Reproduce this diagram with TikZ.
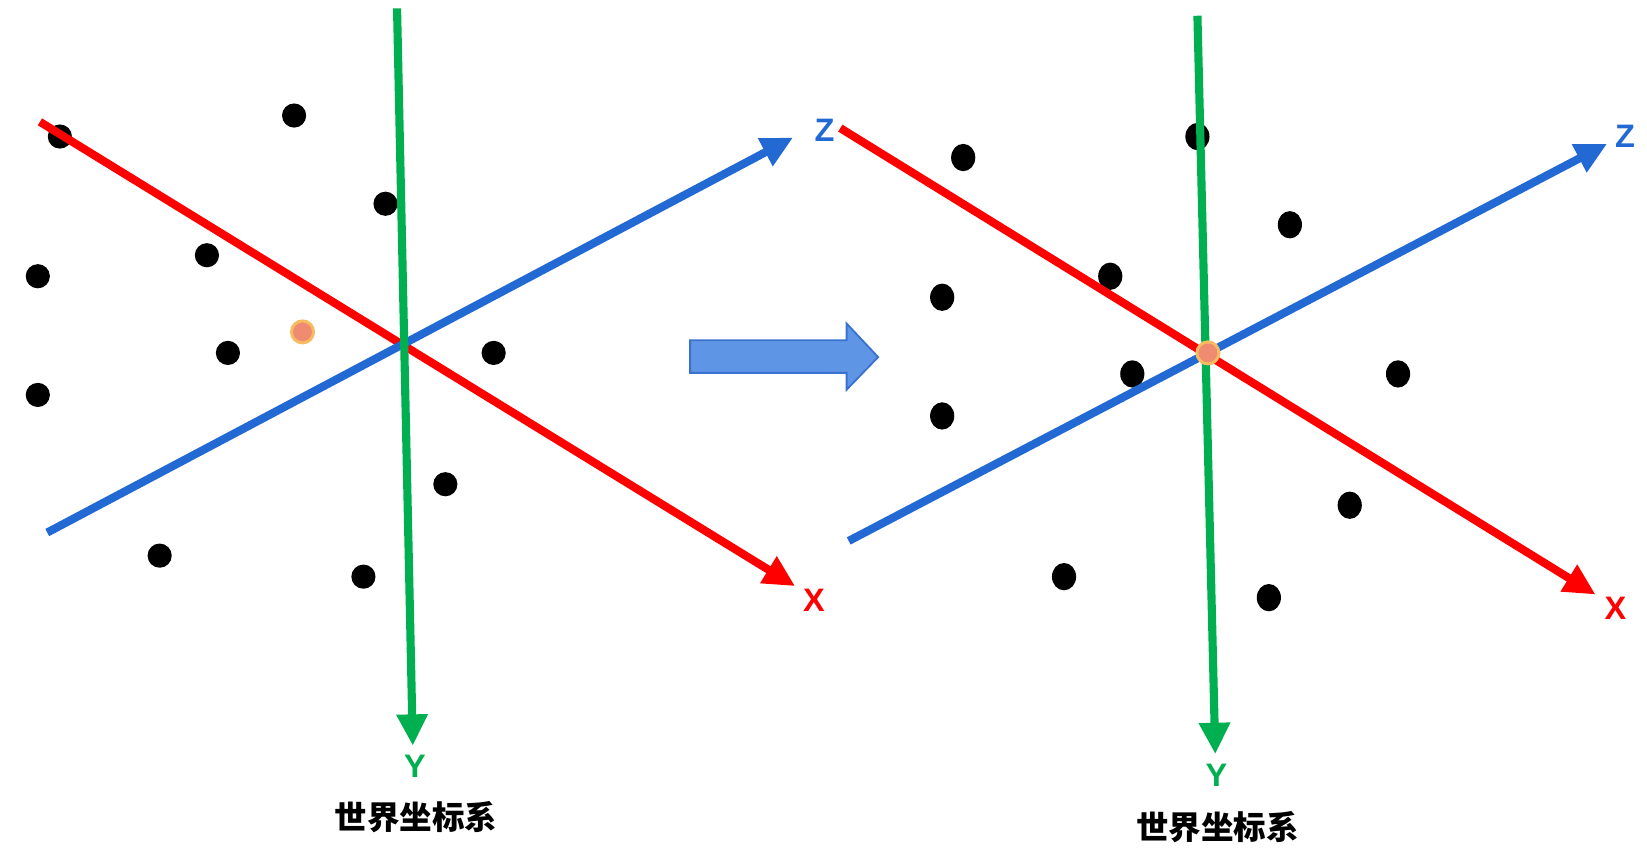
\documentclass[tikz,border=0pt]{standalone}
\usepackage{fontspec}
\setmainfont{Liberation Sans}
\newfontfamily\cjk{Noto Sans CJK SC}
\usetikzlibrary{arrows.meta,shapes.geometric}

\definecolor{axred}{HTML}{FF0000}
\definecolor{axgreen}{HTML}{00B050}
\definecolor{axblue}{HTML}{2369D3}
\definecolor{bigfill}{HTML}{5F95E5}
\definecolor{bigline}{HTML}{3B72D0}
\definecolor{orgfill}{HTML}{EE8B70}
\definecolor{orgline}{HTML}{F7BC5F}

\begin{document}
\begin{tikzpicture}[x=0.01cm,y=-0.01cm,>={Triangle[length=8.5pt,width=8pt]},
 axis/.style={line width=2.2pt,->},
 dot/.style={circle,fill=black,inner sep=0pt,minimum size=0.23cm},
 dotr/.style={ellipse,fill=black,inner sep=0pt,minimum width=0.23cm,minimum height=0.26cm},
 origin/.style={circle,fill=orgfill,draw=orgline,line width=0.8pt,inner sep=0pt,minimum size=0.21cm},
 axlab/.style={font=\fontsize{8.8}{10}\selectfont\bfseries,inner sep=0pt},
 title/.style={font=\cjk\fontsize{8.8}{10}\selectfont\bfseries,inner sep=0pt}]
\useasboundingbox (0,0) rectangle (1568,810);

% left: before
\coordinate (lx0) at (38,116);
\coordinate (lx1) at (757,558);
\coordinate (ly0) at (378,8);
\coordinate (ly1) at (393,710);
\coordinate (lz0) at (45,507);
\coordinate (lz1) at (755,131);
\foreach \x/\y [count=\i] in {57/130,280/110,367/194,197/243,36/263,36/376,217/336,470/336,424/461,152/529,346/549}
  \node[dot] (lp\i) at (\x,\y) {};
\draw[axis,axred] (lx0) -- (lx1);
\draw[axis,axblue] (lz0) -- (lz1);
\draw[axis,axgreen] (ly0) -- (ly1);
\node[origin] (lo) at (288,316) {};
\node[axlab,axblue] (lzl) at (785,124) {Z};
\node[axlab,axred] (lxl) at (775,572) {X};
\node[axlab,axgreen] (lyl) at (395,730) {Y};
\node[title] (lt) at (396,778) {世界坐标系};

% big arrow
\draw[fill=bigfill,draw=bigline,line width=0.5pt]
  (657,324) -- (806,324) -- (806,308) -- (836,340) -- (806,371) -- (806,355) -- (657,355) -- cycle;

% right: after
\coordinate (rx0) at (800,122);
\coordinate (rx1) at (1519,566);
\coordinate (ry0) at (1140,15);
\coordinate (ry1) at (1157,718);
\coordinate (rz0) at (808,515);
\coordinate (rz1) at (1530,137);
\foreach \x/\y [count=\i] in {917/150,1140/130,1228/214,1057/263,897/283,1078/356,897/396,1331/356,1285/481,1013/549,1208/569}
  \node[dotr] (rp\i) at (\x,\y) {};
\draw[axis,axred] (rx0) -- (rx1);
\draw[axis,axblue] (rz0) -- (rz1);
\draw[axis,axgreen] (ry0) -- (ry1);
\node[origin] (ro) at (1150,336) {};
\node[axlab,axblue] (rzl) at (1547,130) {Z};
\node[axlab,axred] (rxl) at (1538,579) {X};
\node[axlab,axgreen] (ryl) at (1158,738) {Y};
\node[title] (rt) at (1159,787) {世界坐标系};
\end{tikzpicture}
\end{document}
